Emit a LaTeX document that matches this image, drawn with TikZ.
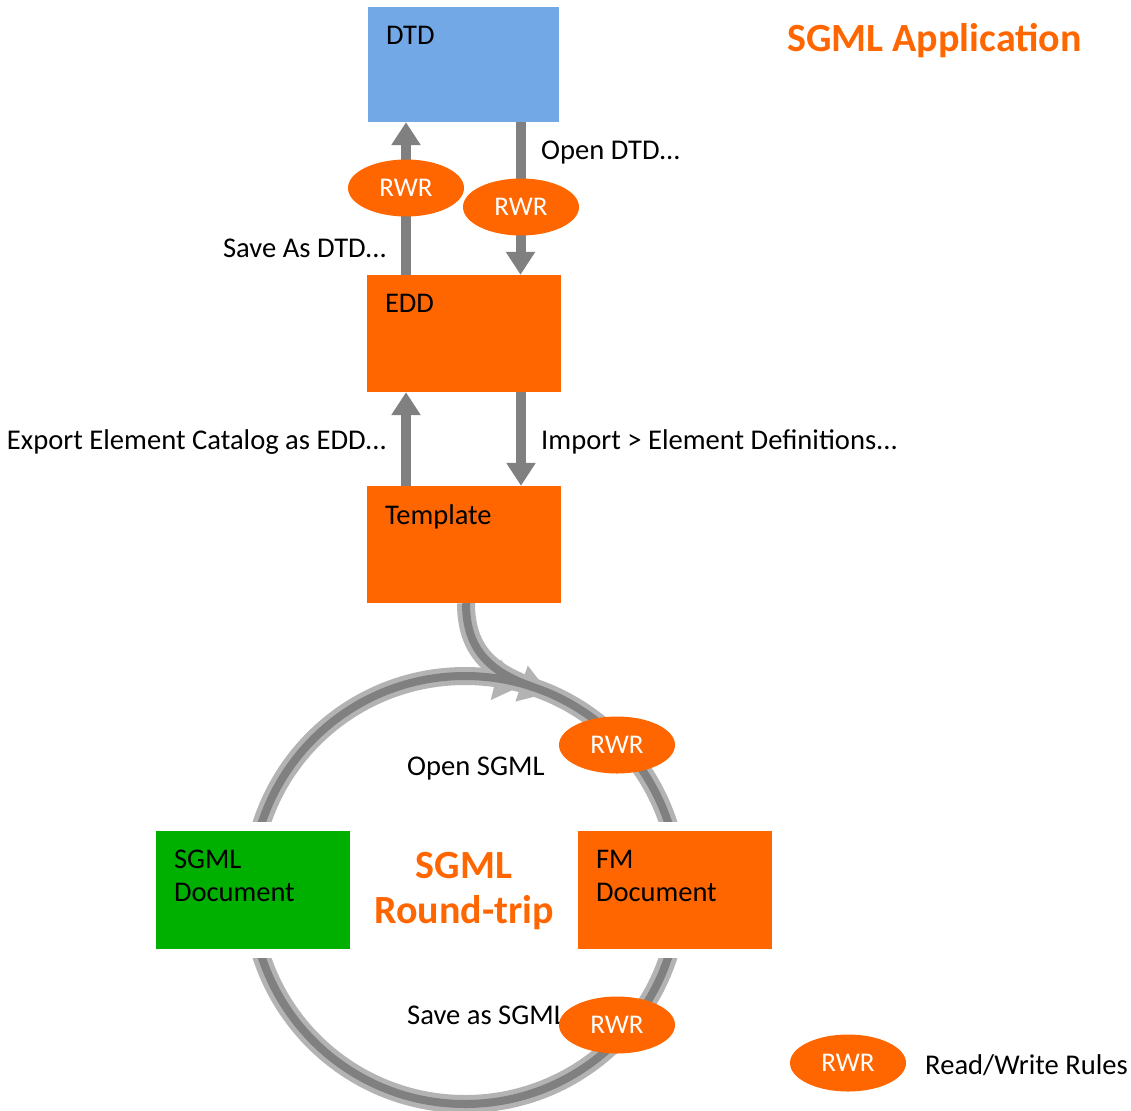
\documentclass[tikz,border=0pt]{standalone}
\usepackage{fontspec}
\setmainfont{Carlito}
\usetikzlibrary{arrows.meta,shapes.geometric,backgrounds}
\definecolor{dtdblue}{HTML}{72A8E6}
\definecolor{org}{HTML}{FF6600}
\definecolor{grn}{HTML}{00B000}
\definecolor{garr}{HTML}{808080}
\definecolor{ringlight}{HTML}{B3B3B3}
\definecolor{ringdark}{HTML}{808080}
\begin{document}
\begin{tikzpicture}[x=1pt,y=-1pt,
  box/.style={rectangle, inner sep=0, minimum width=194pt, minimum height=117pt},
  boxlabel/.style={anchor=north west, inner sep=0, align=left, text=black,
    font=\fontsize{28.5}{33}\selectfont, xshift=18pt, yshift=-19pt},
  docbox/.style={box, minimum height=118pt, preaction={draw=white, line width=18pt}},
  lbl/.style={inner sep=0, text=black, font=\fontsize{28.6}{33}\selectfont},
  ttl/.style={inner sep=0, text=org, font=\fontsize{40}{45}\selectfont\bfseries},
  rwr/.style={ellipse, fill=org, text=white, inner sep=0, minimum width=116pt,
    minimum height=57pt, font=\fontsize{27}{30}\selectfont},
  garrow/.style={draw=garr, line width=10pt, -{Triangle[length=23pt,width=28pt]}},
  tri/.style={fill=ringlight}
]
\useasboundingbox (0,0) rectangle (1131,1110);

% boxes
\node[box, fill=dtdblue, minimum width=191pt, minimum height=115pt,
  label={[boxlabel]north west:DTD}] (dtd) at (463.5,64.5) {};
\node[box, fill=org, label={[boxlabel]north west:EDD}] (edd) at (464,333.5) {};
\node[box, fill=org, label={[boxlabel]north west:Template}] (tpl) at (464,544.5) {};
\node[docbox, fill=grn, label={[boxlabel]north west:SGML\\Document}] (sgml) at (253,890) {};
\node[docbox, fill=org, label={[boxlabel]north west:FM\\Document}] (fm) at (675,890) {};

% round trip ring (behind)
\begin{scope}[on background layer]
  \coordinate (ringc) at (465,890);
  \draw[ringlight, line width=18pt] (ringc) circle[radius=214];
  \draw[ringlight, line width=18pt] ([xshift=2pt]tpl.south) .. controls (466,650) and (490,672) .. (533,687);
  \fill[tri, shift={(521,686)}, rotate=-14] (0,0) -- (-26,-21) -- (-26,21) -- cycle;
  \fill[tri, shift={(549,693)}, rotate=-19] (0,0) -- (-29,-19) -- (-29,19) -- cycle;
  \draw[ringdark, line width=8pt] (ringc) circle[radius=214];
  \draw[ringdark, line width=8pt] ([xshift=2pt]tpl.south) .. controls (466,650) and (490,672) .. (533,687);
\end{scope}

% connectors
\draw[garrow] ([xshift=-58pt]edd.north) -- ([xshift=-58pt]edd.north |- dtd.south);
\draw[garrow] ([xshift=57pt]dtd.south) -- ([xshift=57pt]dtd.south |- edd.north);
\draw[garrow] ([xshift=-58pt]tpl.north) -- ([xshift=-58pt]tpl.north |- edd.south);
\draw[garrow] ([xshift=57pt]edd.south) -- ([xshift=57pt]edd.south |- tpl.north);

% labels
\node[lbl, anchor=base west] (opendtd) at (541,160) {Open DTD...};
\node[lbl, anchor=base east] (savedtd) at (387,257) {Save As DTD...};
\node[lbl, anchor=base east] (export) at (387,449) {Export Element Catalog as EDD...};
\node[lbl, anchor=base west] (import) at (541,449) {Import > Element Definitions...};
\node[lbl, anchor=base west] (opensgml) at (407,775) {Open SGML};
\node[lbl, anchor=base west] (savesgml) at (407,1024) {Save as SGML};
\node[lbl, anchor=base west] (legendtxt) at (925,1074) {Read/Write Rules};

\node[ttl, anchor=base east] (app) at (1082,52) {SGML Application};
\node[ttl, align=center] (rt) at (464,891) {SGML\\Round-trip};

% RWR ellipses
\node[rwr] (rwr1) at (406,188) {RWR};
\node[rwr] (rwr2) at (521,207) {RWR};
\node[rwr] (rwr3) at (617,745) {RWR};
\node[rwr] (rwr4) at (617,1025) {RWR};
\node[rwr] (rwrleg) at (848,1063) {RWR};
\end{tikzpicture}
\end{document}
